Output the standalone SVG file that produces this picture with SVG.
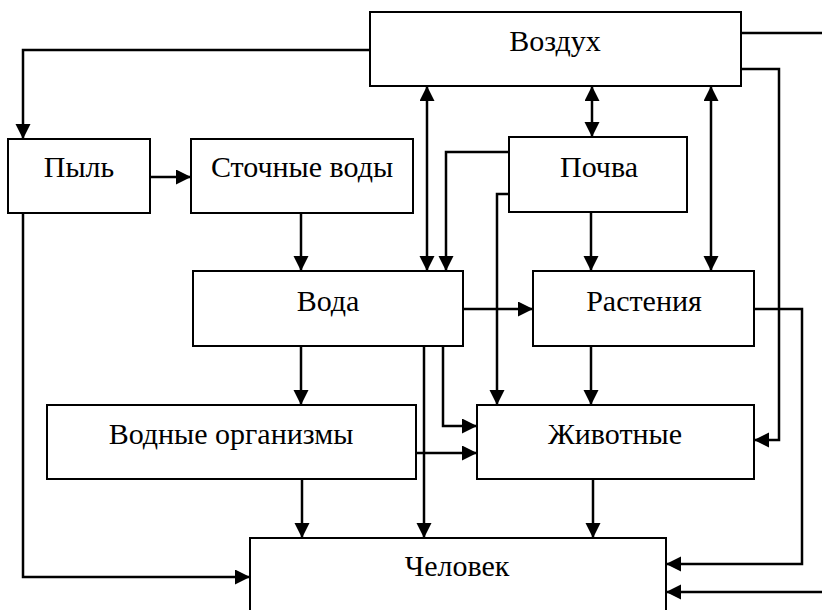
<svg xmlns="http://www.w3.org/2000/svg" width="822" height="610" viewBox="0 0 822 610">
<defs>
<style>
.box{fill:#fff;stroke:#000;stroke-width:2}
.lbl{font-family:"Liberation Serif","Times New Roman",serif;font-size:30px;fill:#000;text-anchor:middle}
.c{fill:none;stroke:#000;stroke-width:2.5}
.a{marker-end:url(#ah)}
.d{marker-end:url(#ah);marker-start:url(#ah)}
</style>
<marker id="ah" markerUnits="userSpaceOnUse" markerWidth="16" markerHeight="16" viewBox="0 0 16 16" refX="15" refY="7.5" orient="auto-start-reverse">
<path d="M0,0 L15,7.5 L0,15 z" fill="#000"/>
</marker>
</defs>
<rect width="822" height="610" fill="#fff"/>
<g id="connectors">
<path class="c a" d="M370,50 H23 V139"/>
<path class="c a" d="M150,177 H191"/>
<path class="c a" d="M301,213 V271"/>
<path class="c d" d="M427,86 V271"/>
<path class="c a" d="M509,152 H446 V271"/>
<path class="c d" d="M592,86 V137"/>
<path class="c d" d="M711,86 V271"/>
<path class="c a" d="M591,212 V271"/>
<path class="c a" d="M509,194 H497 V405"/>
<path class="c a" d="M463,309 H533"/>
<path class="c a" d="M301,346 V405"/>
<path class="c a" d="M424,346 V538"/>
<path class="c a" d="M443,346 V426 H477"/>
<path class="c a" d="M416,453 H477"/>
<path class="c a" d="M591,346 V405"/>
<path class="c a" d="M741,69 H779 V440 H754"/>
<path class="c" d="M741,33 H822"/>
<path class="c a" d="M754,309 H802 V564 H666"/>
<path class="c a" d="M822,592 H666"/>
<path class="c a" d="M302,479 V538"/>
<path class="c a" d="M593,479 V538"/>
<path class="c a" d="M23,213 V577 H250"/>
</g>
<g id="vozdukh"><rect class="box" x="370" y="12" width="371" height="74"/><text class="lbl" x="555" y="51">Воздух</text></g>
<g id="pyl"><rect class="box" x="8" y="139" width="142" height="74"/><text class="lbl" x="79" y="177">Пыль</text></g>
<g id="stochnye"><rect class="box" x="191" y="139" width="222" height="74"/><text class="lbl" x="302" y="177">Сточные воды</text></g>
<g id="pochva"><rect class="box" x="509" y="137" width="178" height="75"/><text class="lbl" x="599" y="177">Почва</text></g>
<g id="voda"><rect class="box" x="193" y="271" width="270" height="75"/><text class="lbl" x="328" y="311">Вода</text></g>
<g id="rastenia"><rect class="box" x="533" y="271" width="221" height="75"/><text class="lbl" x="644" y="311">Растения</text></g>
<g id="vodnye"><rect class="box" x="47" y="405" width="369" height="74"/><text class="lbl" x="231" y="444">Водные организмы</text></g>
<g id="zhivotnye"><rect class="box" x="477" y="405" width="277" height="74"/><text class="lbl" x="615" y="444">Животные</text></g>
<g id="chelovek"><rect class="box" x="250" y="538" width="416" height="90"/><text class="lbl" x="457" y="576">Человек</text></g>
</svg>
